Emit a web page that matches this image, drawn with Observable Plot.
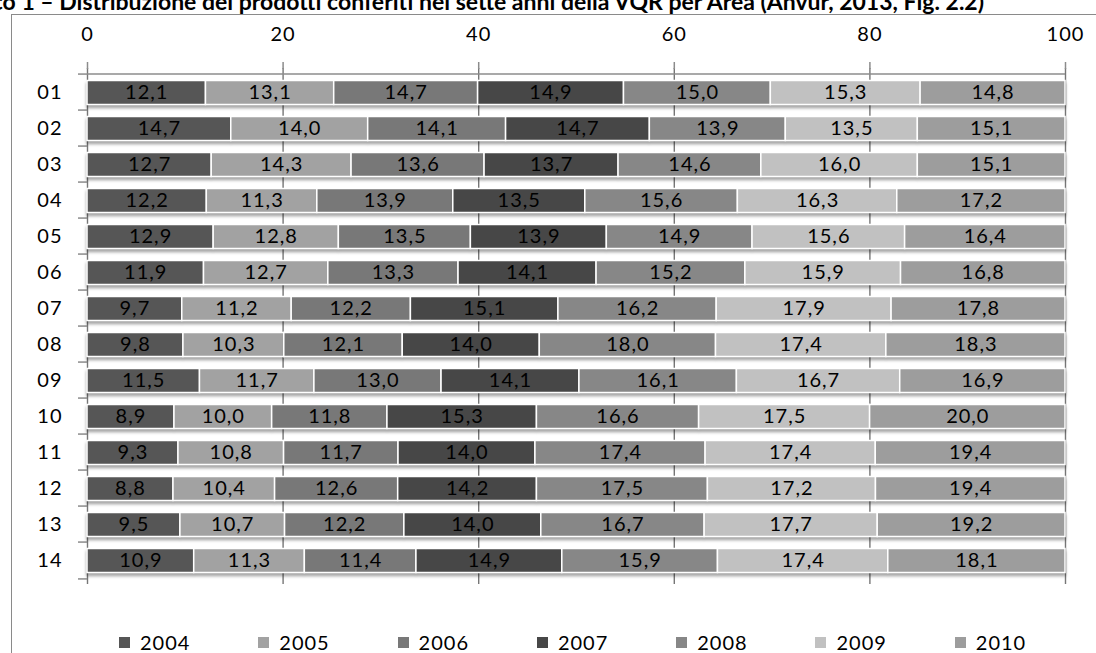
<!DOCTYPE html>
<html>
<head>
<meta charset="utf-8">
<script src="https://cdn.jsdelivr.net/npm/d3@7"></script>
<script src="https://cdn.jsdelivr.net/npm/@observablehq/plot@0.6"></script>
<style>
  html, body { margin: 0; padding: 0; background: #fff; }
  body { width: 1096px; height: 653px; overflow: hidden; position: relative; font-family: Lato, "Open Sans", sans-serif; color: #000; }
  #frame { position: absolute; left: 11px; top: 14px; width: 1200px; height: 800px;
           border-left: 1.5px solid #8a8a8a; border-top: 1.5px solid #8a8a8a; }
  #title { position: absolute; right: 112px; top: -10.5px; white-space: nowrap; font-weight: bold;
           font-size: 23px; line-height: 1; }
  #chart { position: absolute; left: 0; top: 0; }
  #legend { position: absolute; left: 119px; top: 631px; height: 22px; display: flex; }
  .item { width: 139.3px; display: flex; align-items: center; font-size: 20px; letter-spacing: 1px; line-height: 22px; }
  .swatch { width: 11px; height: 11px; margin-right: 10px; flex: none; }
</style>
</head>
<body>
<div id="frame"></div>
<div id="title">Grafico 1 – Distribuzione dei prodotti conferiti nei sette anni della VQR per Area (Anvur, 2013, Fig. 2.2)</div>
<div id="chart"></div>
<div id="legend"></div>
<script>
// Areas (rows) and years (stacked segments)
const areas = ["01", "02", "03", "04", "05", "06", "07", "08", "09", "10", "11", "12", "13", "14"];
const years = ["2004", "2005", "2006", "2007", "2008", "2009", "2010"];

// Share (%) of products per year, one value per area
const v2004 = [12.1, 14.7, 12.7, 12.2, 12.9, 11.9, 9.7, 9.8, 11.5, 8.9, 9.3, 8.8, 9.5, 10.9];
const v2005 = [13.1, 14.0, 14.3, 11.3, 12.8, 12.7, 11.2, 10.3, 11.7, 10.0, 10.8, 10.4, 10.7, 11.3];
const v2006 = [14.7, 14.1, 13.6, 13.9, 13.5, 13.3, 12.2, 12.1, 13.0, 11.8, 11.7, 12.6, 12.2, 11.4];
const v2007 = [14.9, 14.7, 13.7, 13.5, 13.9, 14.1, 15.1, 14.0, 14.1, 15.3, 14.0, 14.2, 14.0, 14.9];
const v2008 = [15.0, 13.9, 14.6, 15.6, 14.9, 15.2, 16.2, 18.0, 16.1, 16.6, 17.4, 17.5, 16.7, 15.9];
const v2009 = [15.3, 13.5, 16.0, 16.3, 15.6, 15.9, 17.9, 17.4, 16.7, 17.5, 17.4, 17.2, 17.7, 17.4];
const v2010 = [14.8, 15.1, 15.1, 17.2, 16.4, 16.8, 17.8, 18.3, 16.9, 20.0, 19.4, 19.4, 19.2, 18.1];

// Axis tick labels (percent)
const tickValues = [0, 20, 40, 60, 80, 100];

// Grey shades for the years
const colors = ["#565656", "#a2a2a2", "#787878", "#474747", "#878787", "#c1c1c1", "#9d9d9d"];

const series = [v2004, v2005, v2006, v2007, v2008, v2009, v2010];
const rows = areas.flatMap((area, i) =>
  years.map((year, j) => ({area, year, value: series[j][i]}))
);

const fmt = v => v.toFixed(1).replace(".", ",");

const W = 1096, H = 620, mTop = 68, mBottom = 36, mLeft = 87, mRight = 31;
const step = (H - mTop - mBottom) / areas.length;

const plot = Plot.plot({
  width: W,
  height: H,
  marginTop: mTop,
  marginBottom: mBottom,
  marginLeft: mLeft,
  marginRight: mRight,
  style: {fontFamily: "Lato, 'Open Sans', sans-serif", background: "transparent", color: "#000", letterSpacing: "1px", overflow: "visible"},
  x: {domain: [0, 1], axis: null},
  y: {domain: areas, padding: 0, axis: null},
  color: {domain: years, range: colors},
  marks: [
    // vertical gridlines
    Plot.ruleX(tickValues.map(t => t / 100), {stroke: "#767676", strokeWidth: 1.4}),
    // top edge of the plot area
    Plot.ruleY([areas[0]], {x1: 0, x2: 1, dy: -step / 2, stroke: "#8c8c8c", strokeWidth: 1.5}),
    // top axis
    Plot.axisX({
      anchor: "top",
      label: null,
      ticks: tickValues.map(t => t / 100),
      tickFormat: d => String(Math.round(d * 100)),
      tickSize: 7,
      tickPadding: 21,
      fontSize: 20,
      stroke: "#8c8c8c",
      strokeWidth: 1.5
    }),
    // area labels
    Plot.axisY({label: null, tickSize: 0, tickPadding: 25, fontSize: 20}),
    // separator ticks between areas
    Plot.axisY({label: null, tickSize: 9, tickFormat: () => "", dy: -step / 2, stroke: "#8c8c8c", strokeWidth: 1.5}),
    Plot.axisY({label: null, ticks: [areas[areas.length - 1]], tickSize: 9, tickFormat: () => "", dy: step / 2, stroke: "#8c8c8c", strokeWidth: 1.5}),
    // stacked bars
    Plot.barX(rows, Plot.stackX({
      x: "value", y: "area", fill: "year", offset: "normalize",
      insetTop: 6.5, insetBottom: 5.5, stroke: "white", strokeWidth: 1.5
    })),
    // value labels
    Plot.text(rows, Plot.stackX({
      x: "value", y: "area", z: "year", offset: "normalize",
      text: d => fmt(d.value), fontSize: 20, fill: "#000", dy: 0.5
    }))
  ]
});

// soft shadow under the bars
d3.select(plot).selectAll('g[aria-label="bar"]')
  .style("filter", "drop-shadow(0px 3px 1.5px rgba(0,0,0,0.35))");

document.getElementById("chart").appendChild(plot);

// legend
const legend = d3.select("#legend");
years.forEach((y, i) => {
  const item = legend.append("div").attr("class", "item");
  item.append("div").attr("class", "swatch").style("background", colors[i]);
  item.append("span").text(y);
});
</script>
</body>
</html>
